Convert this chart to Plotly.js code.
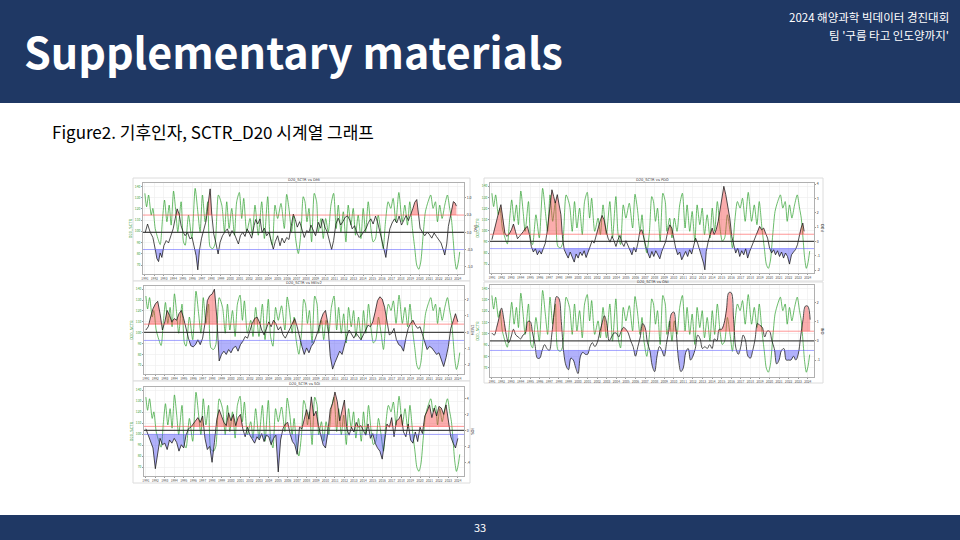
<!DOCTYPE html>
<html><head><meta charset="utf-8">
<script src="https://cdn.plot.ly/plotly-3.0.1.min.js"></script>
<style>html,body{margin:0;padding:0;background:#fff;}#chart{width:960px;height:540px;}</style>
</head><body><div id="chart"></div>
<script>
// ---------------- DATA ----------------
const YEAR_TICKS = [1991,1992,1993,1994,1995,1996,1997,1998,1999,2000,2001,2002,2003,2004,2005,2006,2007,2008,2009,2010,2011,2012,2013,2014,2015,2016,2017,2018,2019,2020,2021,2022,2023,2024];
const YEAR_LABELS = YEAR_TICKS.map(String);
const D20_TICKS = [70,80,90,100,110,120,130,140];

// D20_SCTR (green line, left axis)
const D20_T = [1991.00,1991.18,1991.39,1991.67,1991.84,1992.09,1992.37,1992.61,1992.86,1993.07,1993.32,1993.56,1993.77,1994.02,1994.26,1994.47,1994.82,1995.07,1995.25,1995.60,1995.95,1996.30,1996.58,1996.82,1997.07,1997.35,1997.63,1997.88,1998.16,1998.40,1998.75,1999.11,1999.39,1999.63,1999.88,2000.16,2000.44,2000.68,2000.96,2001.21,2001.42,2001.74,2002.09,2002.33,2002.61,2002.96,2003.32,2003.60,2003.95,2004.19,2004.44,2004.72,2005.00,2005.35,2005.70,2005.95,2006.19,2006.47,2006.68,2006.89,2007.18,2007.46,2007.70,2007.88,2008.09,2008.30,2008.58,2008.86,2009.11,2009.28,2009.57,2009.81,2010.06,2010.34,2010.62,2010.90,2011.18,2011.39,2011.67,2011.92,2012.20,2012.44,2012.72,2012.97,2013.21,2013.49,2013.78,2014.02,2014.27,2014.55,2014.83,2015.07,2015.32,2015.60,2015.88,2016.13,2016.37,2016.65,2016.93,2017.18,2017.46,2017.78,2018.13,2018.41,2018.69,2018.93,2019.21,2019.46,2019.67,2019.88,2020.09,2020.34,2020.58,2020.86,2021.14,2021.39,2021.64,2021.85,2022.09,2022.34,2022.62,2022.90,2023.14,2023.32,2023.50,2023.67,2023.85,2024.02,2024.20];
const D20_V = [133.8,121.8,132.3,114.4,120.4,102.5,93.6,88.2,111.4,127.8,108.5,123.3,105.5,135.8,117.4,99.5,126.3,90.6,87.6,114.4,93.6,138.2,117.4,99.5,132.3,108.5,126.3,86.1,84.6,89.1,132.3,123.3,99.5,126.3,102.5,120.4,96.5,126.3,134.6,111.4,129.3,99.5,111.4,96.5,123.3,96.5,126.3,93.6,130.8,96.5,87.6,123.3,111.4,124.8,102.5,132.9,120.4,99.5,114.4,93.6,80.2,99.5,130.8,126.3,108.5,120.4,90.6,133.8,126.3,99.5,111.4,93.6,111.4,99.5,123.3,133.8,102.5,123.3,99.5,117.4,90.6,123.3,105.5,120.4,96.5,114.4,93.6,120.4,99.5,126.3,102.5,90.6,93.6,114.4,99.5,84.6,108.5,126.3,120.4,129.3,108.5,134.6,108.5,123.3,105.5,126.3,102.5,84.6,69.8,66.2,72.7,96.5,117.4,126.3,132.3,120.4,126.3,108.5,123.3,111.4,123.3,132.3,120.4,111.4,93.6,75.7,66.2,71.2,81.7];

// DMI
const DMI_T = [1991.04,1991.28,1991.56,1991.84, 1992.09,1992.26,1992.44,1992.61,1992.79, 1993.00,1993.25,1993.49,1993.74,1993.98, 1994.19,1994.40,1994.61,1994.82, 1995.04,1995.25,1995.49,1995.74,1995.98, 1996.19,1996.40,1996.58,1996.75,1996.96, 1997.21,1997.46,1997.67,1997.88, 1998.05,1998.26,1998.47,1998.72,1998.93, 1999.18,1999.46,1999.70,1999.95, 2000.19,2000.44,2000.68,2000.86, 2001.07,2001.32,2001.56,2001.77, 2002.02,2002.26,2002.51,2002.68,2002.89, 2003.14,2003.35,2003.60,2003.84, 2004.09,2004.33,2004.54,2004.75, 2005.00,2005.25,2005.46,2005.70,2005.95, 2006.19,2006.40,2006.65,2006.86, 2007.07,2007.32,2007.53,2007.81, 2008.06,2008.30,2008.51,2008.76, 2009.00,2009.28,2009.53,2009.74,2009.99, 2010.23,2010.48,2010.69,2010.90, 2011.14,2011.39,2011.64,2011.88, 2012.13,2012.37,2012.62,2012.86, 2013.11,2013.35,2013.60,2013.85, 2014.09,2014.34,2014.58,2014.83, 2015.07,2015.32,2015.56,2015.81, 2016.02,2016.23,2016.41,2016.58,2016.83, 2017.07,2017.32,2017.56,2017.81, 2018.06,2018.30,2018.55,2018.79, 2019.04,2019.25,2019.46,2019.67,2019.85, 2020.02,2020.27,2020.51,2020.76, 2021.00,2021.25,2021.50,2021.74,2021.99, 2022.23,2022.44,2022.62,2022.83, 2023.00,2023.18,2023.35,2023.53,2023.71,2023.85];
const DMI_V = [0.00,0.24,0.00,-0.15, -0.49,-0.76,-0.85,-0.60,-0.73, -0.39,-0.24,-0.31,-0.10,0.10, 0.39,0.68,0.53,0.19, 0.00,-0.10,0.00,-0.19,-0.15, -0.39,-0.68,-1.09,-0.53,-0.19, 0.10,0.34,0.83,1.26, 0.53,-0.05,-0.29,-0.63,-0.29, -0.10,0.02,0.10,-0.12, 0.05,-0.05,-0.21,-0.34, -0.10,0.00,-0.12,0.10, -0.02,-0.17,0.19,0.37,0.24, 0.39,0.00,0.12,-0.10, 0.00,-0.27,-0.49,-0.27, -0.10,-0.39,-0.17,-0.31,-0.15, -0.21,0.10,0.53,0.37, 0.15,0.31,0.10,-0.15, 0.05,0.00,0.21,0.05, -0.10,0.29,0.12,0.39,0.15, 0.00,-0.31,-0.50,-0.24, 0.24,0.41,0.21,0.31, 0.44,0.48,0.34,0.10, 0.19,-0.02,-0.15,-0.08, 0.02,0.12,0.29,0.39, 0.24,0.47,0.27,-0.02, -0.27,-0.49,-0.73,-0.34,0.10, 0.27,0.39,0.27,0.47, 0.21,0.37,0.49,0.34, 0.50,0.68,0.87,0.95,0.53, 0.12,0.00,-0.10,0.00, -0.06,-0.17,-0.02,-0.12,-0.21, -0.31,-0.49,-0.66,-0.34, 0.17,0.41,0.68,0.89,0.85,0.76];

// PDO
const PDO_T = [1991.00,1991.24,1991.49,1991.73,1991.94, 1992.14,1992.35,1992.56,1992.80, 1993.04,1993.25,1993.46,1993.67,1993.88, 1994.08,1994.29,1994.50,1994.71,1994.92, 1995.12,1995.33,1995.54,1995.75,1995.96, 1996.16,1996.37,1996.58,1996.75,1996.93, 1997.10,1997.27,1997.45,1997.62,1997.83, 1998.04,1998.21,1998.38,1998.56,1998.76,1998.97, 1999.18,1999.39,1999.60,1999.80, 2000.01,2000.22,2000.43,2000.64,2000.84, 2001.05,2001.26,2001.47,2001.68,2001.88, 2002.09,2002.30,2002.51,2002.72,2002.92, 2003.13,2003.34,2003.55,2003.75,2003.96, 2004.17,2004.38,2004.59,2004.79, 2005.00,2005.21,2005.42,2005.63,2005.83, 2006.04,2006.25,2006.46,2006.67,2006.87, 2007.08,2007.29,2007.50,2007.71,2007.91, 2008.12,2008.33,2008.54,2008.75,2008.95, 2009.16,2009.37,2009.58,2009.79,2009.99, 2010.20,2010.41,2010.62,2010.83, 2011.03,2011.24,2011.45,2011.66,2011.87, 2012.07,2012.28,2012.49,2012.70,2012.91, 2013.11,2013.25,2013.39,2013.60,2013.81, 2014.01,2014.22,2014.43,2014.64,2014.81, 2015.02,2015.23,2015.43,2015.64,2015.85, 2016.06,2016.27,2016.47,2016.68,2016.89, 2017.10,2017.31,2017.51,2017.72,2017.93, 2018.14,2018.35,2018.55,2018.76,2018.97, 2019.18,2019.39,2019.59,2019.80, 2020.01,2020.22,2020.43,2020.63,2020.84, 2021.05,2021.26,2021.47,2021.67,2021.88, 2022.09,2022.30,2022.51,2022.71,2022.92, 2023.13,2023.30,2023.48,2023.62];
const PDO_V = [0.12,0.81,1.40,2.09,2.56, 1.74,0.58,0.35,0.51, 0.81,1.21,0.70,0.19,0.35, 0.51,0.70,0.93,1.05,0.47, -0.35,-0.74,-0.51,-0.93,-0.65, -0.88,-0.47,-0.12,0.58,1.51, 2.79,3.60,3.14,2.67,3.26, 2.56,1.86,0.23,-0.58,-0.88,-1.16, -0.74,-1.05,-1.44,-0.88, -1.16,-0.74,-0.98,-0.65,-1.12, -0.74,-0.35,0.05,-0.12,0.42, 0.93,1.40,1.81,1.51,0.81, 0.23,-0.05,0.35,0.05,-0.35, 0.12,0.42,-0.12,-0.35, 0.05,-0.28,-0.65,-0.93,-0.42, -0.74,-0.12,0.70,0.81,0.12, -0.35,-0.81,-1.16,-0.70,-1.05, -0.65,-0.93,-1.21,-0.70,-0.35, 0.00,0.70,1.16,0.93,0.23, -0.47,-0.93,-0.74,-1.28, -0.98,-0.70,-1.05,-0.58,-0.88, -0.23,0.23,-0.12,-0.58,-0.93, -1.51,-1.98,-0.70,0.00,0.58, 0.93,0.47,0.81,1.40,2.09, 2.91,3.84,3.26,2.56,1.63, 0.35,-0.35,-0.81,-0.47,-1.05, -0.65,-0.93,-0.51,-1.16,-0.70, -0.35,0.00,0.47,0.70,1.05, 0.81,0.93,0.58,0.23, -0.47,-0.81,-0.58,-0.93,-0.65, -1.05,-0.74,-1.16,-0.81,-1.05, -1.58,-0.93,-0.74,-0.58,-0.23, 0.58,0.93,1.28,0.70];

// quarterly series (Jan, Apr, Jul, Oct of each year, from 1991)
const MEI_V = [0.14,0.34,0.94,1.44, 1.74,1.90,1.14,0.14, 0.64,1.34,1.04,0.64, 0.84,0.74,1.14,1.34, 0.84,0.14,-0.36,-0.82, -0.90,-0.76,-0.46,-0.76, -0.36,0.54,1.94,2.24, 2.34,2.64,0.94,-1.76, -1.36,-1.16,-1.36,-1.06, -1.26,-0.96,-0.86,-1.16, -0.76,-0.56,-0.26,-0.36, 0.14,0.54,0.84,0.94, 0.64,0.14,-0.16,0.24, 0.64,0.34,0.74,0.54, 0.14,0.34,-0.16,-0.36, -0.06,0.34,0.64,0.84, 0.34,-0.36,-0.86,-1.36, -0.96,-1.26,-0.86,-0.66, -0.26,0.14,0.74,1.14, 1.34,0.54,-1.46,-2.26, -1.86,-1.56,-1.16,-1.36, -0.76,-0.26,0.14,-0.16, -0.36,-0.06,-0.26,-0.46, -0.16,0.14,0.44,0.34, 0.64,1.24,1.94,2.18, 2.04,1.54,0.54,-0.16, -0.06,0.24,-0.46,-0.76, -0.86,-1.16,-0.36,0.24, 0.54,0.74,0.44,0.24, 0.34,-0.16,-0.66,-1.06, -0.86,-0.96,-1.16,-1.36, -1.26,-1.76,-2.10,-1.56, -0.86,0.24,0.74,1.14, 0.64];
const ONI_V = [0.4,0.3,0.7,1.2, 1.7,1.1,0.3,-0.1, 0.2,0.6,0.3,0.2, 0.1,0.3,0.4,1.0, 1.0,0.4,-0.2,-0.9, -0.9,-0.5,-0.2,-0.4, -0.5,0.3,1.5,2.3, 2.2,1.0,-0.6,-1.3, -1.5,-0.9,-1.0,-1.4, -1.7,-0.8,-0.6,-0.7, -0.7,-0.3,-0.1,-0.3, -0.1,0.4,0.9,1.3, 0.9,0.0,0.2,0.4, 0.4,0.2,0.5,0.7, 0.6,0.4,0.0,-0.3, -0.8,-0.3,0.2,0.9, 0.7,-0.1,-0.5,-1.3, -1.6,-0.8,-0.3,-0.5, -0.8,-0.1,0.6,1.4, 1.5,0.5,-1.0,-1.6, -1.4,-0.6,-0.4,-1.0, -0.8,-0.4,0.3,0.1, -0.4,-0.3,-0.4,-0.2, -0.4,0.1,0.0,0.6, 0.6,0.9,1.6,2.5, 2.5,1.1,-0.4,-0.7, -0.3,0.3,0.0,-0.8, -0.9,-0.5,0.1,0.9, 0.8,0.7,0.2,0.5, 0.5,0.0,-0.4,-1.2, -1.0,-0.5,-0.4,-1.0, -1.0,-1.0,-0.8,-1.0, -0.7,0.2,1.1,1.8, 1.8,1.1];
const SOI_V = [0.2,-0.6,-1.5,-2.2, -4.8,-2.6,-1.0,-1.8, -1.6,-2.4,-1.2,-1.6, -1.0,-1.5,-2.6,-1.8, -2.2,-0.6,0.2,0.4, 0.8,1.2,1.6,1.0, 1.8,-1.0,-2.4,-2.0, -4.0,-1.5,1.4,2.6, 1.8,1.0,0.6,2.2, 1.2,2.0,0.6,1.6, 2.0,0.2,-0.8,0.4, -0.6,-1.2,-1.6,-0.8, -1.2,-0.4,-1.4,-0.6, -0.8,-1.8,-1.0,-0.6, -5.2,-1.2,0.2,0.8, 1.0,-0.4,-1.4,-1.8, -3.0,0.4,0.2,1.4, 2.6,1.4,4.2,1.8, 2.4,0.6,-0.8,-1.8, -2.2,-0.2,2.6,3.4, 4.8,3.6,1.2,2.6, 3.8,0.2,-0.6,0.4, -0.2,1.0,0.4,0.6, 0.0,-0.6,0.8,-1.0, -0.4,-1.6,-2.2,-2.6, -3.6,-1.2,0.8,0.4, 1.6,-0.8,1.2,1.4, 2.0,-0.2,-0.8,0.8, -1.2,-1.6,-0.2,-1.4, 0.4,-0.4,1.8,2.4, 3.2,1.6,2.8,1.8, 3.0,2.8,2.0,3.2, 1.2,-0.8,-1.6,-2.2, -1.0];

// ---------------- LAYOUT / STYLE ----------------
function quarterTimes(n){ const t=[]; for(let i=0;i<n;i++) t.push(1991 + i*0.25); return t; }

const panels = [
  {name:'DMI', t:DMI_T, v:DMI_V, thr:0.5, range:[-1.21,1.43], ticks:[-1,-0.5,0,0.5,1], tt:['-1.0','-0.5','0.0','0.5','1.0'], plot:[143,183,464,274], frame:[133,178,470,281], spline:false},
  {name:'PDO', t:PDO_T, v:PDO_V, thr:0.5, range:[-2.2,4.07], ticks:[-2,-1,0,1,2,3,4], tt:['-2','-1','0','1','2','3','4'], plot:[490,183,814,273], frame:[484,178,823,281], spline:false},
  {name:'MEIv2', t:quarterTimes(MEI_V.length), v:MEI_V, thr:0.5, range:[-2.56,2.84], ticks:[-2,-1,0,1,2], tt:['-2','-1','0','1','2'], plot:[144,286,464,374], frame:[133,281,470,381], spline:false},
  {name:'ONI', t:quarterTimes(ONI_V.length), v:ONI_V, thr:0.5, range:[-1.88,2.9], ticks:[-1,0,1,2], tt:['-1','0','1','2'], plot:[490,285,814,377], frame:[484,282,823,383], spline:true},
  {name:'SOI', t:quarterTimes(SOI_V.length), v:SOI_V, thr:0.5, range:[-5.71,5.43], ticks:[-4,-2,0,2,4], tt:['-4','-2','0','2','4'], plot:[144,387,464,476], frame:[133,381,470,483], spline:false}
];

const W=960, H=540;
const NAVY = '#1f3864';
const GREEN = 'rgba(44,160,44,0.7)';
const FONT = '"Noto Sans CJK KR", "Noto Sans", sans-serif';

function clipSeries(t, v, thr, above){
  const xs=[], ys=[];
  for(let i=0;i<t.length;i++){
    if(i>0){
      const a=v[i-1]-thr, b=v[i]-thr;
      if(a*b<0){ const r=a/(a-b); xs.push(t[i-1]+r*(t[i]-t[i-1])); ys.push(thr); }
    }
    xs.push(t[i]); ys.push(above ? Math.max(v[i],thr) : Math.min(v[i],thr));
  }
  return {xs, ys};
}

const traces=[];
const layout = {
  width:W, height:H, margin:{l:0,r:0,t:0,b:0},
  paper_bgcolor:'#ffffff', plot_bgcolor:'#ffffff', showlegend:false,
  font:{family:FONT},
  shapes:[], annotations:[]
};

// slide decoration
layout.shapes.push({type:'rect', xref:'paper', yref:'paper', x0:0, x1:1, y0:1-103/H, y1:1, fillcolor:NAVY, line:{width:0}, layer:'below'});
layout.shapes.push({type:'rect', xref:'paper', yref:'paper', x0:0, x1:1, y0:0, y1:25/H, fillcolor:NAVY, line:{width:0}, layer:'below'});
layout.annotations.push({xref:'paper', yref:'paper', x:22/W, y:1-50/H, xanchor:'left', yanchor:'middle', showarrow:false, text:'Supplementary materials', font:{family:FONT, size:43, color:'#ffffff', weight:700}});
layout.annotations.push({xref:'paper', yref:'paper', x:951/W, y:1-17/H, xanchor:'right', yanchor:'middle', showarrow:false, text:'2024 해양과학 빅데이터 경진대회', font:{family:FONT, size:11.5, color:'#ffffff'}});
layout.annotations.push({xref:'paper', yref:'paper', x:951/W, y:1-34.5/H, xanchor:'right', yanchor:'middle', showarrow:false, text:'팀 \'구름 타고 인도양까지\'', font:{family:FONT, size:11.5, color:'#ffffff'}});
layout.annotations.push({xref:'paper', yref:'paper', x:50/W, y:1-131/H, xanchor:'left', yanchor:'middle', showarrow:false, text:'Figure2. 기후인자, SCTR_D20 시계열 그래프', font:{family:FONT, size:17, color:'#000000'}});
layout.annotations.push({xref:'paper', yref:'paper', x:480/W, y:1-527/H, xanchor:'center', yanchor:'middle', showarrow:false, text:'33', font:{family:FONT, size:11, color:'#ffffff'}});

panels.forEach((p, k)=>{
  const i=k+1;
  const xa = i===1 ? 'x' : 'x'+i;
  const yL = 'y'+(2*i-1 === 1 ? '' : (2*i-1));
  const yR = 'y'+(2*i);
  const xName = i===1 ? 'xaxis' : 'xaxis'+i;
  const yLName = (2*i-1)===1 ? 'yaxis' : 'yaxis'+(2*i-1);
  const yRName = 'yaxis'+(2*i);
  const [px0,py0,px1,py1] = p.plot;
  const [fx0,fy0,fx1,fy1] = p.frame;

  layout.shapes.push({type:'rect', xref:'paper', yref:'paper', x0:fx0/W, x1:fx1/W, y0:1-fy1/H, y1:1-fy0/H, fillcolor:'#ffffff', line:{color:'#dcdcdc', width:1}, layer:'below'});

  layout[xName] = {domain:[px0/W, px1/W], anchor:yL, range:[1990.8, 2024.65], tickmode:'array', tickvals:YEAR_TICKS, ticktext:YEAR_LABELS, tickangle:0, tickfont:{size:3.2, color:'#555'}, ticks:'outside', ticklen:1, tickcolor:'#999', showgrid:true, gridcolor:'#ececec', gridwidth:0.6, zeroline:false, showline:true, mirror:true, linecolor:'#b0b0b0', linewidth:1, fixedrange:true};
  layout[yLName] = {domain:[1-py1/H, 1-py0/H], anchor:xa, range:[62,143], tickmode:'array', tickvals:D20_TICKS, tickfont:{size:3.3, color:'#3a9a3a'}, ticks:'outside', ticklen:1, tickcolor:'#999', title:{text:'D20_SCTR', font:{size:4, color:'#3a9a3a'}, standoff:2}, showgrid:true, gridcolor:'#ececec', gridwidth:0.6, zeroline:false, showline:true, mirror:true, linecolor:'#b0b0b0', linewidth:1, fixedrange:true};
  layout[yRName] = {overlaying:yL, side:'right', anchor:xa, range:p.range, tickmode:'array', tickvals:p.ticks, ticktext:p.tt, tickfont:{size:3.5, color:'#333'}, ticks:'outside', ticklen:1, tickcolor:'#999', title:{text:p.name, font:{size:4, color:'#333'}, standoff:2}, showgrid:false, zeroline:false, showline:false, fixedrange:true};

  // title
  layout.annotations.push({xref:'paper', yref:'paper', x:((px0+px1)/2)/W, y:1-(py0-2.6)/H, xanchor:'center', yanchor:'middle', showarrow:false, text:'D20_SCTR vs '+p.name, font:{family:'DejaVu Sans', size:3.6, color:'#333'}});

  // green D20 line
  traces.push({type:'scatter', mode:'lines', x:D20_T, y:D20_V, xaxis:xa, yaxis:yL, line:{color:GREEN, width:1, shape:'spline', smoothing:0.7}, hoverinfo:'skip'});

  // fills
  const up = clipSeries(p.t, p.v, p.thr, true);
  traces.push({type:'scatter', mode:'lines', x:up.xs, y:up.xs.map(()=>p.thr), xaxis:xa, yaxis:yR, line:{width:0, color:'rgba(0,0,0,0)'}, hoverinfo:'skip'});
  traces.push({type:'scatter', mode:'lines', x:up.xs, y:up.ys, xaxis:xa, yaxis:yR, fill:'tonexty', fillcolor:'rgba(245,60,60,0.42)', line:{width:0, color:'rgba(0,0,0,0)'}, hoverinfo:'skip'});
  const dn = clipSeries(p.t, p.v, -p.thr, false);
  traces.push({type:'scatter', mode:'lines', x:dn.xs, y:dn.xs.map(()=>-p.thr), xaxis:xa, yaxis:yR, line:{width:0, color:'rgba(0,0,0,0)'}, hoverinfo:'skip'});
  traces.push({type:'scatter', mode:'lines', x:dn.xs, y:dn.ys, xaxis:xa, yaxis:yR, fill:'tonexty', fillcolor:'rgba(70,70,245,0.42)', line:{width:0, color:'rgba(0,0,0,0)'}, hoverinfo:'skip'});

  // index line
  traces.push({type:'scatter', mode:'lines', x:p.t, y:p.v, xaxis:xa, yaxis:yR, line:{color:'rgba(20,20,20,0.75)', width:1, shape:p.spline?'spline':'linear'}, hoverinfo:'skip'});

  // reference lines
  const dref = xa+' domain';
  layout.shapes.push({type:'line', xref:dref, yref:yR, x0:0, x1:1, y0:p.thr, y1:p.thr, line:{color:'rgba(255,80,80,0.6)', width:1}});
  layout.shapes.push({type:'line', xref:dref, yref:yR, x0:0, x1:1, y0:-p.thr, y1:-p.thr, line:{color:'rgba(90,90,255,0.55)', width:1}});
  layout.shapes.push({type:'line', xref:dref, yref:yR, x0:0, x1:1, y0:0, y1:0, line:{color:'rgba(40,40,40,0.85)', width:1.3}});
});

Plotly.newPlot('chart', traces, layout, {staticPlot:true, displayModeBar:false});
</script></body></html>
